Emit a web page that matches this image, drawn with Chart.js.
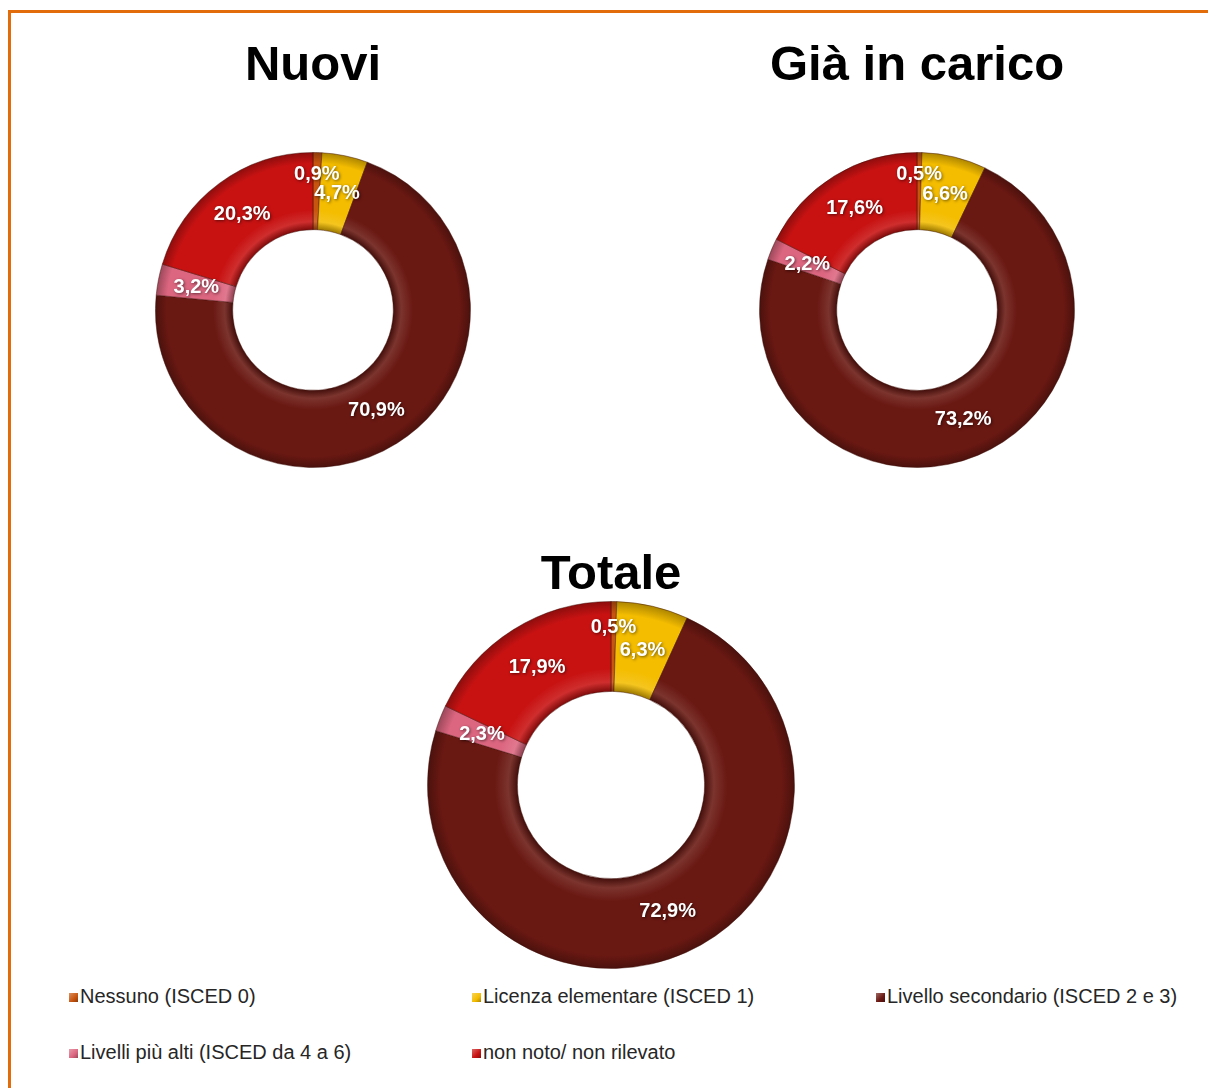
<!DOCTYPE html>
<html lang="it">
<head>
  <meta charset="UTF-8" />
  <title>Titolo di studio - Nuovi, Già in carico, Totale</title>
  <script src="https://cdn.jsdelivr.net/npm/chart.js"></script>
  <style>
    html, body {
      margin: 0;
      padding: 0;
      background: #fff;
      width: 1208px;
      height: 1088px;
      overflow: hidden;
      font-family: Arial, "Liberation Sans", sans-serif;
    }
    .frame {
      position: absolute;
      left: 8px;
      top: 10px;
      width: 1300px;
      height: 1200px;
      border: 3px solid #e36c0a;
    }
    canvas {
      position: absolute;
    }
    .legend-item {
      position: absolute;
      font-size: 20px;
      line-height: 20px;
      color: #262626;
      white-space: nowrap;
    }
    .legend-item .box {
      display: inline-block;
      width: 9px;
      height: 9px;
      margin-right: 2px;
      vertical-align: 1px;
    }
  </style>
</head>
<body>
  <div class="frame"></div>

  <canvas id="nuovi" width="316" height="431" style="left:155px; top:37px;"></canvas>
  <canvas id="giaInCarico" width="316" height="431" style="left:759px; top:37px;"></canvas>
  <canvas id="totale" width="368" height="420" style="left:427px; top:549px;"></canvas>

  <div id="legend"></div>

  <script>
    // categorie e valori (%)
    const categories = [
      'Nessuno (ISCED 0)',
      'Licenza elementare (ISCED 1)',
      'Livello secondario (ISCED 2 e 3)',
      'Livelli più alti (ISCED da 4 a 6)',
      'non noto/ non rilevato'
    ];
    const nuoviValues = [0.9, 4.7, 70.9, 3.2, 20.3];
    const giaInCaricoValues = [0.5, 6.6, 73.2, 2.2, 17.6];
    const totaleValues = [0.5, 6.3, 72.9, 2.3, 17.9];

    const sliceColors = ['#c8550f', '#f4bd00', '#6a1812', '#dc6680', '#c81212'];

    function shade(hex, amt) {
      const n = parseInt(hex.slice(1), 16);
      let r = (n >> 16) & 255, g = (n >> 8) & 255, b = n & 255;
      const f = c => amt < 0 ? Math.round(c * (1 + amt)) : Math.round(c + (255 - c) * amt);
      return `rgb(${f(r)}, ${f(g)}, ${f(b)})`;
    }

    // bevel-like radial shading of the ring
    function bevel(context) {
      const chart = context.chart;
      const area = chart.chartArea;
      const base = sliceColors[context.dataIndex];
      if (!area) return base;
      const cx = (area.left + area.right) / 2;
      const cy = (area.top + area.bottom) / 2;
      const outer = Math.min(area.width, area.height) / 2;
      const inner = outer * 0.51;
      const g = chart.ctx.createRadialGradient(cx, cy, inner, cx, cy, outer);
      g.addColorStop(0, shade(base, -0.35));
      g.addColorStop(0.1, shade(base, 0.12));
      g.addColorStop(0.25, base);
      g.addColorStop(0.85, base);
      g.addColorStop(1, shade(base, -0.3));
      return g;
    }

    const percentLabels = {
      id: 'percentLabels',
      afterDatasetsDraw(chart) {
        const ctx = chart.ctx;
        const values = chart.data.datasets[0].data;
        const meta = chart.getDatasetMeta(0);
        ctx.save();
        ctx.font = 'bold 20px Arial, "Liberation Sans", sans-serif';
        ctx.fillStyle = '#fff';
        ctx.textAlign = 'center';
        ctx.textBaseline = 'middle';
        ctx.shadowColor = 'rgba(0, 0, 0, 0.55)';
        ctx.shadowBlur = 3;
        ctx.shadowOffsetX = 1;
        ctx.shadowOffsetY = 1;
        meta.data.forEach((arc, i) => {
          const v = values[i];
          let { x, y } = arc.tooltipPosition();
          if (v < 1) {
            // tiny slice: label pushed toward the outer edge
            const mid = (arc.startAngle + arc.endAngle) / 2;
            const r = arc.outerRadius * 0.86;
            x = arc.x + Math.cos(mid) * r;
            y = arc.y + Math.sin(mid) * r;
          }
          ctx.fillText(v.toFixed(1).replace('.', ',') + '%', x, y);
        });
        ctx.restore();
      }
    };

    function makeDonut(id, title, values, padTop, padBottom) {
      const ctx = document.getElementById(id).getContext('2d');
      return new Chart(ctx, {
        type: 'doughnut',
        data: {
          labels: categories,
          datasets: [{
            data: values,
            backgroundColor: bevel,
            borderColor: 'rgba(60, 10, 5, 0.45)',
            borderWidth: 1
          }]
        },
        options: {
          responsive: false,
          animation: false,
          cutout: '51%',
          layout: { padding: 0 },
          plugins: {
            legend: { display: false },
            tooltip: { enabled: false },
            title: {
              display: true,
              text: title,
              color: '#000',
              font: { family: 'Arial, "Liberation Sans", sans-serif', size: 49, weight: 'bold', lineHeight: 1 },
              padding: { top: padTop, bottom: padBottom }
            }
          }
        },
        plugins: [percentLabels]
      });
    }

    makeDonut('nuovi', 'Nuovi', nuoviValues, 5, 61);
    makeDonut('giaInCarico', 'Già in carico', giaInCaricoValues, 5, 61);
    makeDonut('totale', 'Totale', totaleValues, 2, 1);

    // legend at the bottom, built from the same arrays
    const legendPos = [[69, 986], [472, 986], [876, 986], [69, 1042], [472, 1042]];
    const legend = document.getElementById('legend');
    categories.forEach((name, i) => {
      const item = document.createElement('div');
      item.className = 'legend-item';
      item.style.left = legendPos[i][0] + 'px';
      item.style.top = legendPos[i][1] + 'px';
      const box = document.createElement('span');
      box.className = 'box';
      box.style.background = `linear-gradient(135deg, ${shade(sliceColors[i], 0.35)}, ${sliceColors[i]} 60%, ${shade(sliceColors[i], -0.3)})`;
      item.appendChild(box);
      item.appendChild(document.createTextNode(name));
      legend.appendChild(item);
    });
  </script>
</body>
</html>
